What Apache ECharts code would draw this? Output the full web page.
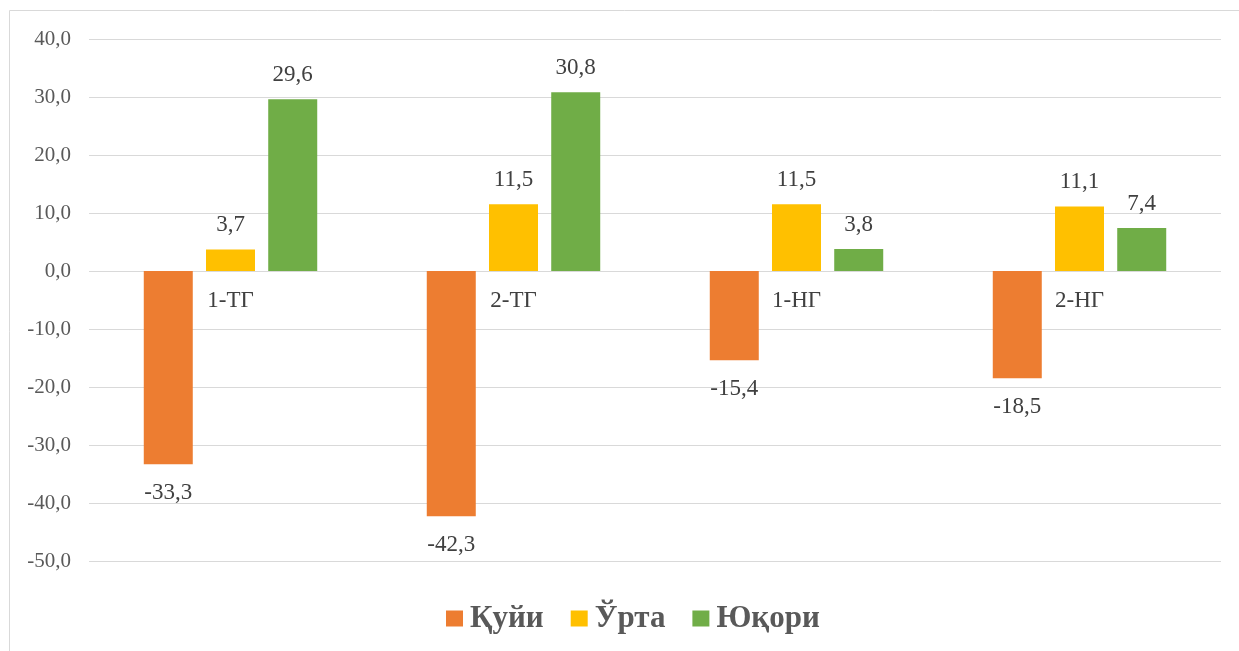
<!DOCTYPE html>
<html><head><meta charset="utf-8">
<script src="https://cdn.jsdelivr.net/npm/echarts@6/dist/echarts.min.js"></script>
<style>html,body{margin:0;padding:0;background:#fff}#c{width:1239px;height:651px}</style>
</head><body><div id="c"></div>
<script>
const categories = ['1-ТГ', '2-ТГ', '1-НГ', '2-НГ'];
const seriesNames = ['Қуйи', 'Ўрта', 'Юқори'];
const lowVals = [-33.3, -42.3, -15.4, -18.5];
const midVals = [3.7, 11.5, 11.5, 11.1];
const highVals = [29.6, 30.8, 3.8, 7.4];
const colors = ['#ED7D31', '#FFC000', '#70AD47'];
const fmt = v => v.toFixed(1).replace('.', ',');
const serif = '"Liberation Serif", "Times New Roman", serif';
function mk(name, vals, color) {
  return {
    name, type: 'bar', barWidth: 49, barGap: '27%',
    itemStyle: { color },
    data: vals.map(v => ({ value: v, label: v < 0 ? { position: 'bottom', distance: 17 } : { position: 'top', distance: 13 } })),
    label: { show: true, fontFamily: serif, fontSize: 23, color: '#404040', formatter: p => fmt(p.value) }
  };
}
const chart = echarts.init(document.getElementById('c'), null, { renderer: 'canvas' });
chart.setOption({
  animation: false,
  graphic: [{ type: 'rect', shape: { x: 9.5, y: 10.5, width: 1400, height: 800 }, style: { fill: 'none', stroke: '#d9d9d9', lineWidth: 1 }, z: -1 }],
  grid: { left: 89, right: 18, top: 39, bottom: 90 },
  legend: {
    top: 603, left: 446, padding: 0, itemWidth: 17, itemHeight: 16, itemGap: 27, icon: 'rect',
    textStyle: { fontFamily: serif, fontSize: 31, fontWeight: 'bold', color: '#595959', padding: [0, 0, 0, 2] },
    data: seriesNames
  },
  xAxis: {
    type: 'category', data: categories, position: 'bottom', offset: -290,
    axisLine: { show: false },
    axisTick: { show: false },
    axisLabel: { fontFamily: serif, fontSize: 23, color: '#404040', margin: 18 }
  },
  yAxis: {
    type: 'value', min: -50, max: 40, interval: 10,
    axisLine: { show: false }, axisTick: { show: false },
    splitLine: { lineStyle: { color: '#d9d9d9' } },
    axisLabel: { fontFamily: serif, fontSize: 21, color: '#595959', margin: 18, formatter: fmt }
  },
  series: [mk(seriesNames[0], lowVals, colors[0]), mk(seriesNames[1], midVals, colors[1]), mk(seriesNames[2], highVals, colors[2])]
});
</script></body></html>
